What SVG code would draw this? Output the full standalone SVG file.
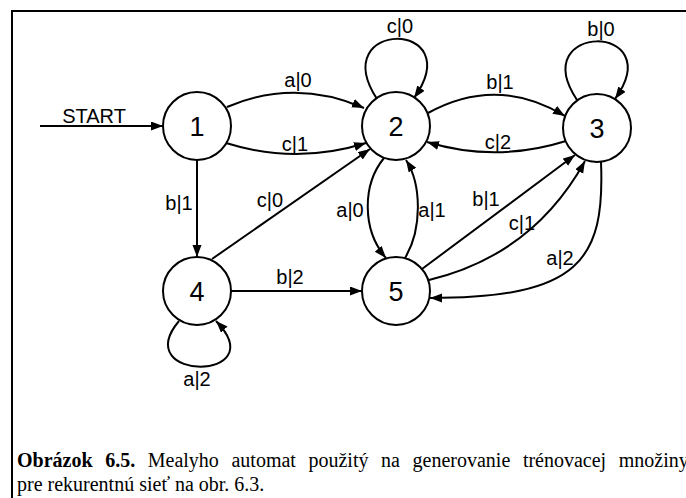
<svg xmlns="http://www.w3.org/2000/svg" width="686" height="498" viewBox="0 0 686 498">
  <defs>
    <marker id="arrow" markerUnits="userSpaceOnUse" markerWidth="13" markerHeight="10" refX="12" refY="4.5" orient="auto">
      <path d="M0,0 L12,4.5 L0,9 z" fill="#000"/>
    </marker>
    <style>
      .state circle { fill: #fff; stroke: #000; stroke-width: 2; }
      .state text { font-family: "Liberation Sans", Arial, sans-serif; font-size: 27px; text-anchor: middle; fill: #000; }
      .edge { fill: none; stroke: #000; stroke-width: 2; marker-end: url(#arrow); }
      .lbl { font-family: "Liberation Sans", Arial, sans-serif; font-size: 20px; text-anchor: middle; fill: #000; }
      .cap { font-family: "Liberation Serif", "Times New Roman", serif; font-size: 20px; fill: #000; }
    </style>
  </defs>
  <rect width="686" height="498" fill="#fff"/>
  <!-- figure frame (continues past the right and bottom edges) -->
  <rect x="12" y="11" width="700" height="500" fill="none" stroke="#000" stroke-width="2"/>

  <!-- transitions -->
  <g id="connectors">
    <path class="edge" d="M40,126 L163,126"/>
    <!-- 1 -> 2 -->
    <path class="edge" d="M227,107 Q295,78 364,108"/>
    <path class="edge" d="M226,143 Q296,165 366,143"/>
    <!-- 1 -> 4 -->
    <path class="edge" d="M197,160 L197,257"/>
    <!-- 4 -> 2 -->
    <path class="edge" d="M212,259 L370,149"/>
    <!-- 4 -> 5 -->
    <path class="edge" d="M231,291 L362,291"/>
    <!-- 4 self loop -->
    <path class="edge" d="M179,321 C128,382 275,382 216,321"/>
    <!-- 2 self loop -->
    <path class="edge" d="M377,99 C325,19 470,19 414,98"/>
    <!-- 3 self loop -->
    <path class="edge" d="M577,100 C525,22 670,22 615,99"/>
    <!-- 2 <-> 3 -->
    <path class="edge" d="M428,113 Q497,75 565,116"/>
    <path class="edge" d="M566,141 Q496,163 427,142"/>
    <!-- 2 <-> 5 -->
    <path class="edge" d="M384,158 C362,185 362,230 386,258"/>
    <path class="edge" d="M405,258 C422,230 422,185 406,160"/>
    <!-- 5 -> 3 -->
    <path class="edge" d="M422,269 L575,155"/>
    <path class="edge" d="M429,280 Q533,255 585,161"/>
    <!-- 3 -> 5 -->
    <path class="edge" d="M601,162 C605,260 580,298 430,298"/>
  </g>

  <g id="edge-labels">
    <text class="lbl" x="94" y="123">START</text>
    <text class="lbl" x="298" y="87">a|0</text>
    <text class="lbl" x="295" y="151">c|1</text>
    <text class="lbl" x="179" y="210">b|1</text>
    <text class="lbl" x="270" y="207">c|0</text>
    <text class="lbl" x="290" y="284">b|2</text>
    <text class="lbl" x="197" y="386">a|2</text>
    <text class="lbl" x="400" y="33">c|0</text>
    <text class="lbl" x="601" y="36">b|0</text>
    <text class="lbl" x="500" y="89">b|1</text>
    <text class="lbl" x="498" y="149">c|2</text>
    <text class="lbl" x="350" y="217">a|0</text>
    <text class="lbl" x="432" y="217">a|1</text>
    <text class="lbl" x="486" y="206">b|1</text>
    <text class="lbl" x="522" y="230">c|1</text>
    <text class="lbl" x="560" y="265">a|2</text>
  </g>

  <g id="state-1" class="state"><circle cx="197" cy="126" r="34"/><text x="197" y="136">1</text></g>
  <g id="state-2" class="state"><circle cx="396" cy="126" r="34"/><text x="396" y="136">2</text></g>
  <g id="state-3" class="state"><circle cx="597" cy="128" r="34"/><text x="597" y="138">3</text></g>
  <g id="state-4" class="state"><circle cx="197" cy="291" r="34"/><text x="197" y="301">4</text></g>
  <g id="state-5" class="state"><circle cx="396" cy="291" r="34"/><text x="396" y="301">5</text></g>

  <g id="caption">
    <text class="cap" x="17" y="467" word-spacing="7.6"><tspan font-weight="bold">Obrázok 6.5.</tspan> Mealyho automat použitý na generovanie trénovacej množiny</text>
    <text class="cap" x="17" y="491">pre rekurentnú sieť na obr. 6.3.</text>
  </g>
</svg>
